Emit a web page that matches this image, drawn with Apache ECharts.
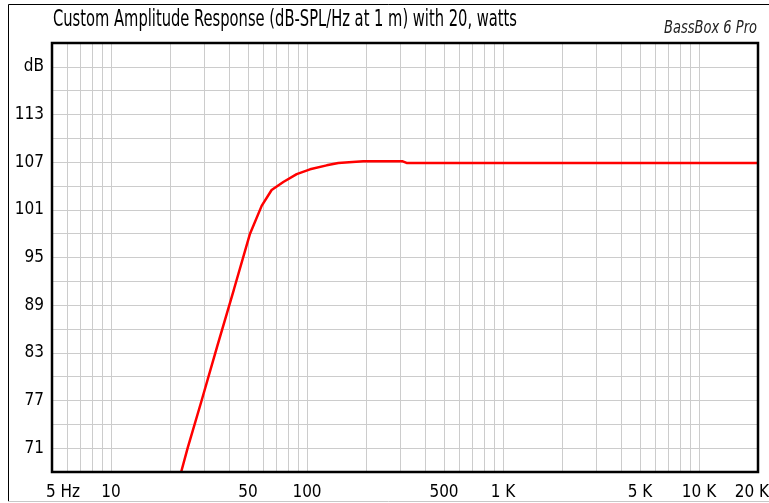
<!DOCTYPE html>
<html><head><meta charset="utf-8">
<script src="https://cdn.jsdelivr.net/npm/echarts@6/dist/echarts.min.js"></script>
<style>html,body{margin:0;padding:0;background:#fff}#c{width:769px;height:503px}</style>
</head><body><div id="c"></div>
<script>
// ---- data ----
const freqHz = [22.8, 24.6, 29.0, 35.0, 42.4, 51.2, 58.7, 66, 75.7, 88.6, 103.6, 126, 144.5, 193.7, 308, 322, 20000];
const splDb  = [68.0, 71.0, 77.0, 84.0, 91.0, 98.0, 101.5, 103.5, 104.5, 105.5, 106.1, 106.6, 106.9, 107.1, 107.1, 106.9, 106.9];
const gridFreqs = [6,7,8,9,10,20,30,40,50,60,70,80,90,100,200,300,400,500,600,700,800,900,1000,2000,3000,4000,5000,6000,7000,8000,9000,10000];
const xTickValues = [5,10,50,100,500,1000,5000,10000,20000];
const xTickLabels = ['5 Hz','10','50','100','500','1 K','5 K','10 K','20 K'];
const yTickValues = [71,77,83,89,95,101,107,113];
const yUnitValue = 119;
const yUnitLabel = 'dB';
const titleText = 'Custom Amplitude Response (dB-SPL/Hz at 1 m) with 20, watts';
const brandText = 'BassBox 6 Pro';

const FONT = '"Liberation Sans Narrow","DejaVu Sans Condensed","Liberation Sans",Arial,sans-serif';
function fitScale(text, font, target){
  const cv = document.createElement('canvas').getContext('2d');
  cv.font = font; return target / cv.measureText(text).width;
}
const titleFont = '23px ' + FONT;
const brandFont = 'italic 17px ' + FONT;
const titleScale = fitScale(titleText, titleFont, 464);
const brandScale = fitScale(brandText, brandFont, 93);

function xLabelStyle(i){
  if (i === 0) return {align:'left', offset:[-6,0]};
  if (i === xTickValues.length-1) return {align:'right', offset:[11,0]};
  return {};
}

const chart = echarts.init(document.getElementById('c'), null, {renderer:'canvas'});
chart.setOption({
  animation:false,
  backgroundColor:'#fff',
  grid:{left:52, top:43, right:11, bottom:31, show:true, z:10, backgroundColor:'transparent', borderColor:'#000', borderWidth:2.5},
  xAxis:{type:'log', logBase:10, min:5, max:20000,
    axisLine:{show:false}, axisTick:{show:false}, axisLabel:{show:false}, splitLine:{show:false}, minorTick:{show:false}},
  yAxis:{type:'value', min:68, max:122, interval:3,
    axisLine:{show:false}, axisTick:{show:false},
    axisLabel:{margin:8, fontFamily:FONT, fontSize:17, color:'#000',
      formatter:v=> v===yUnitValue ? yUnitLabel : (yTickValues.indexOf(v)>=0 ? String(v) : '')},
    splitLine:{show:true, lineStyle:{color:'#cccccc', width:1}}},
  graphic:[
    {type:'line', shape:{x1:8.5,y1:4.5,x2:769,y2:4.5}, style:{stroke:'#000', lineWidth:1}},
    {type:'line', shape:{x1:8.5,y1:4.5,x2:8.5,y2:501}, style:{stroke:'#000', lineWidth:1}},
    {type:'line', shape:{x1:8,y1:501.5,x2:769,y2:501.5}, style:{stroke:'#c8c8c8', lineWidth:1}},
    {type:'text', x:53, y:20, scaleX:titleScale, style:{text:titleText, font:titleFont, fill:'#000', verticalAlign:'middle'}},
    {type:'text', x:757, y:29, scaleX:brandScale, style:{text:brandText, font:brandFont, fill:'#222', align:'right', verticalAlign:'middle'}}
  ],
  series:[
    {type:'line', data:[], z:1, silent:true,
      markLine:{silent:true, symbol:['none','none'], z:1, animation:false,
        lineStyle:{color:'#cccccc', width:1, type:'solid'}, label:{show:false},
        emphasis:{disabled:true},
        data: gridFreqs.map(f=>({xAxis:f}))}},
    {type:'line', data:[], z:1, silent:true,
      markLine:{silent:true, symbol:['none','none'], z:1, animation:false,
        lineStyle:{color:'rgba(0,0,0,0)', width:0}, emphasis:{disabled:true},
        label:{show:true, position:'start', distance:12, formatter:'{b}', fontFamily:FONT, fontSize:17, color:'#000'},
        data: xTickValues.map((v,i)=>({xAxis:v, name:xTickLabels[i], label:xLabelStyle(i)}))}},
    {type:'line', z:5, data: freqHz.map((f,i)=>[f, splDb[i]]), showSymbol:false, smooth:false,
      lineStyle:{color:'#ff0000', width:2.5}, clip:true}
  ]
});
</script></body></html>
